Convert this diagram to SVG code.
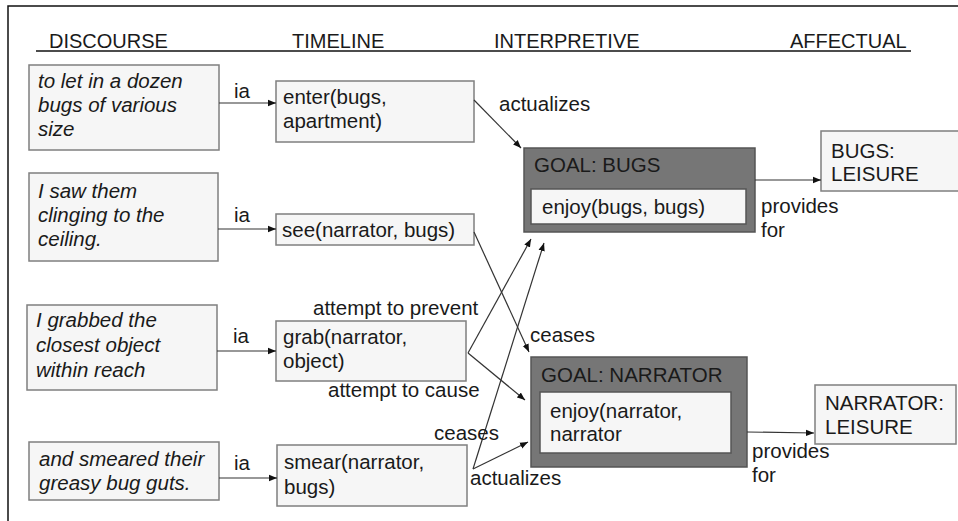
<svg xmlns="http://www.w3.org/2000/svg" width="958" height="521" viewBox="0 0 958 521">
<defs>
<marker id="ah" viewBox="0 0 10 10" refX="10" refY="5" markerWidth="8" markerHeight="8" markerUnits="userSpaceOnUse" orient="auto">
<path d="M0,1 L10,5 L0,9 z" fill="#111"/>
</marker>
</defs>
<style>
text{font-family:"Liberation Sans",Arial,sans-serif;font-size:20.5px;fill:#1a1a1a}
.hd{font-size:20px}
.it{font-style:italic}
.box{fill:#f6f6f6;stroke:#7f7f7f;stroke-width:1.5}
.goal{fill:#767676;stroke:#555;stroke-width:1.5}
.inner{fill:#f6f6f6;stroke:#555;stroke-width:1.5}
.c{stroke:#333;stroke-width:1.2;fill:none;marker-end:url(#ah)}
</style>
<rect width="958" height="521" fill="#fff"/>
<path d="M8,521 V6 H958" fill="none" stroke="#111" stroke-width="1.5"/>
<g id="headers">
<text class="hd" x="49" y="48">DISCOURSE</text>
<text class="hd" x="292" y="48">TIMELINE</text>
<text class="hd" x="494" y="48">INTERPRETIVE</text>
<text class="hd" x="790" y="48">AFFECTUAL</text>
<line x1="36" y1="51" x2="911" y2="51" stroke="#111" stroke-width="1.5"/>
</g>
<g id="d1"><rect class="box" x="29" y="65" width="190" height="85"/>
<text class="it" x="38" y="88">to let in a dozen</text><text class="it" x="38" y="112">bugs of various</text><text class="it" x="38" y="136">size</text></g>
<g id="d2"><rect class="box" x="29" y="173" width="189" height="88"/>
<text class="it" x="38" y="198">I saw them</text><text class="it" x="38" y="222">clinging to the</text><text class="it" x="38" y="246">ceiling.</text></g>
<g id="d3"><rect class="box" x="27" y="305" width="190" height="85"/>
<text class="it" x="36" y="327">I grabbed the</text><text class="it" x="36" y="352">closest object</text><text class="it" x="36" y="377">within reach</text></g>
<g id="d4"><rect class="box" x="29" y="442" width="190" height="58"/>
<text class="it" x="39" y="466">and smeared their</text><text class="it" x="39" y="490">greasy bug guts.</text></g>
<g id="t1"><rect class="box" x="276" y="81" width="198" height="61"/>
<text x="283" y="104">enter(bugs,</text><text x="283" y="128">apartment)</text></g>
<g id="t2"><rect class="box" x="276" y="214" width="198" height="31"/>
<text x="282" y="237">see(narrator, bugs)</text></g>
<g id="t3"><rect class="box" x="276" y="321" width="190" height="60"/>
<text x="283" y="344">grab(narrator,</text><text x="283" y="368">object)</text></g>
<g id="t4"><rect class="box" x="277" y="445" width="190" height="61"/>
<text x="284" y="469">smear(narrator,</text><text x="284" y="494">bugs)</text></g>
<g id="goalBugs"><rect class="goal" x="524" y="148" width="231" height="84"/>
<text x="534" y="172">GOAL: BUGS</text>
<rect class="inner" x="531" y="189" width="215" height="35"/>
<text x="542" y="214">enjoy(bugs, bugs)</text></g>
<g id="goalNarrator"><rect class="goal" x="531" y="357" width="216" height="110"/>
<text x="541" y="382">GOAL: NARRATOR</text>
<rect class="inner" x="540" y="392" width="191" height="61"/>
<text x="550" y="418">enjoy(narrator,</text><text x="550" y="441">narrator</text></g>
<g id="bugsLeisure"><rect class="box" x="821" y="131" width="142" height="60"/>
<text x="831" y="158">BUGS:</text><text x="831" y="181">LEISURE</text></g>
<g id="narratorLeisure"><rect class="box" x="815" y="385" width="141" height="59"/>
<text x="825" y="410">NARRATOR:</text><text x="825" y="434">LEISURE</text></g>
<g id="connectors">
<line class="c" x1="219" y1="103" x2="276" y2="103"/>
<line class="c" x1="218" y1="229" x2="276" y2="229"/>
<line class="c" x1="217" y1="351" x2="276" y2="351"/>
<line class="c" x1="219" y1="478" x2="277" y2="478"/>
<line class="c" x1="474" y1="100" x2="521" y2="148"/>
<line class="c" x1="474" y1="232" x2="529" y2="352"/>
<line class="c" x1="468" y1="353" x2="531" y2="239"/>
<line class="c" x1="468" y1="353" x2="525" y2="400"/>
<line class="c" x1="473" y1="469" x2="544" y2="243"/>
<line class="c" x1="473" y1="469" x2="528" y2="442"/>
<line class="c" x1="755" y1="180" x2="821" y2="180"/>
<line class="c" x1="747" y1="432" x2="814" y2="433"/>
<text x="234" y="98">ia</text>
<text x="234" y="222">ia</text>
<text x="233" y="343">ia</text>
<text x="234" y="470">ia</text>
<text x="499" y="111">actualizes</text>
<text x="313" y="315">attempt to prevent</text>
<text x="328" y="397">attempt to cause</text>
<text x="530" y="342">ceases</text>
<text x="434" y="440">ceases</text>
<text x="470" y="485">actualizes</text>
<text x="761" y="213">provides</text><text x="761" y="237">for</text>
<text x="752" y="458">provides</text><text x="752" y="482">for</text>
</g>
</svg>
